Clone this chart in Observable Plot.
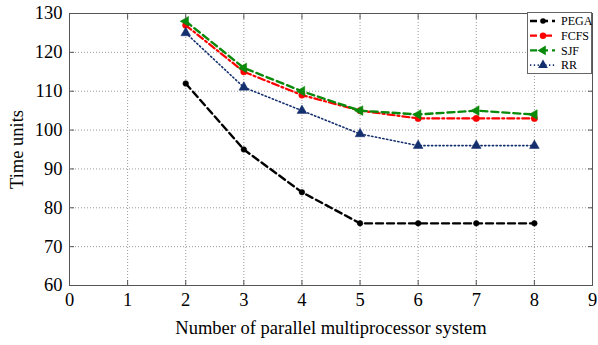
<!DOCTYPE html>
<html>
<head>
<meta charset="utf-8">
<script src="https://cdn.jsdelivr.net/npm/d3@7"></script>
<script src="https://cdn.jsdelivr.net/npm/@observablehq/plot@0.6"></script>
<style>
  html, body { margin: 0; padding: 0; background: #fff; }
  #wrap { position: relative; width: 598px; height: 345px; }
  #legend { position: absolute; left: 527px; top: 12px; }
</style>
</head>
<body>
<div id="wrap"></div>
<script>
const processors = [2, 3, 4, 5, 6, 7, 8];
const pega = [112, 95, 84, 76, 76, 76, 76];
const fcfs = [127, 115, 109, 105, 103, 103, 103];
const sjf  = [128, 116, 110, 105, 104, 105, 104];
const rr   = [125, 111, 105, 99, 96, 96, 96];
const xTicks = [0, 1, 2, 3, 4, 5, 6, 7, 8, 9];
const yTicks = [60, 70, 80, 90, 100, 110, 120, 130];
const seriesNames = ["PEGA", "FCFS", "SJF", "RR"];

const series = [
  {name: "PEGA", values: pega, color: "#000000", dash: "7,4", width: 2.4, symbol: "circle", r: 2.8, rotate: 0},
  {name: "FCFS", values: fcfs, color: "#ff0000", dash: "7,3,2,3", width: 2.2, symbol: "circle", r: 3.2, rotate: 0},
  {name: "SJF", values: sjf, color: "#0a8a0a", dash: "7,4", width: 2.4, symbol: "triangle", r: 3.6, rotate: -90},
  {name: "RR", values: rr, color: "#142f6e", dash: "1.3,2.5", width: 1.6, symbol: "triangle", r: 3.6, rotate: 0}
];

const marks = [
  Plot.gridX(xTicks, {stroke: "#999", strokeOpacity: 1, strokeWidth: 1, strokeDasharray: "1,2"}),
  Plot.gridY(yTicks, {stroke: "#999", strokeOpacity: 1, strokeWidth: 1, strokeDasharray: "1,2"}),
  Plot.frame({stroke: "#555", strokeWidth: 1})
];
for (const s of series) {
  const data = processors.map((p, i) => ({x: p, y: s.values[i]}));
  marks.push(Plot.line(data, {x: "x", y: "y", stroke: s.color, strokeWidth: s.width, strokeDasharray: s.dash}));
  marks.push(Plot.dot(data, {x: "x", y: "y", fill: s.color, stroke: s.color, strokeWidth: 0.5, symbol: s.symbol, r: s.r, rotate: s.rotate}));
}
marks.push(
  Plot.axisX(xTicks, {anchor: "bottom", tickSize: -5, tickPadding: 12, stroke: "#555", tickFormat: d => d, label: "Number of parallel multiprocessor system", labelAnchor: "center", labelOffset: 48, labelArrow: "none", fontSize: 18.5}),
  Plot.axisX(xTicks, {anchor: "top", tickSize: -5, stroke: "#555", tickFormat: () => "", label: null}),
  Plot.axisY(yTicks, {anchor: "left", tickSize: -5, tickPadding: 12, stroke: "#555", tickFormat: d => d, label: "Time units", labelAnchor: "center", labelOffset: 60, labelArrow: "none", fontSize: 18.5}),
  Plot.axisY(yTicks, {anchor: "right", tickSize: -5, stroke: "#555", tickFormat: () => "", label: null})
);

const chart = Plot.plot({
  width: 598,
  height: 345,
  marginLeft: 69,
  marginRight: 6,
  marginTop: 13,
  marginBottom: 60,
  x: {domain: [0, 9]},
  y: {domain: [60, 130]},
  style: {fontFamily: "'Liberation Serif', 'Times New Roman', serif", fontSize: "17.5px", color: "#000", background: "#fff"},
  marks
});
const wrap = document.getElementById("wrap");
wrap.appendChild(chart);

// Legend (inside plot area, top-right)
const lw = 65, lh = 62;
const leg = d3.create("svg").attr("id", "legend").attr("width", lw).attr("height", lh)
  .style("font-family", "'Liberation Serif', 'Times New Roman', serif").style("font-size", "12px");
leg.append("rect").attr("x", 0.5).attr("y", 0.5).attr("width", lw - 1).attr("height", lh - 1)
  .attr("fill", "#fff").attr("stroke", "#666");
series.forEach((s, i) => {
  const cy = 9 + i * 14.7;
  leg.append("line").attr("x1", 3).attr("x2", 28).attr("y1", cy).attr("y2", cy)
    .attr("stroke", s.color).attr("stroke-width", s.width).attr("stroke-dasharray", s.dash);
  const sym = s.symbol === "circle" ? d3.symbolCircle : d3.symbolTriangle;
  leg.append("path").attr("d", d3.symbol(sym, Math.PI * s.r * s.r)())
    .attr("transform", `translate(16,${cy}) rotate(${s.rotate})`).attr("fill", s.color);
  leg.append("text").attr("x", 34).attr("y", cy).attr("dy", "0.35em").text(seriesNames[i]);
});
wrap.appendChild(leg.node());
</script>
</body>
</html>
